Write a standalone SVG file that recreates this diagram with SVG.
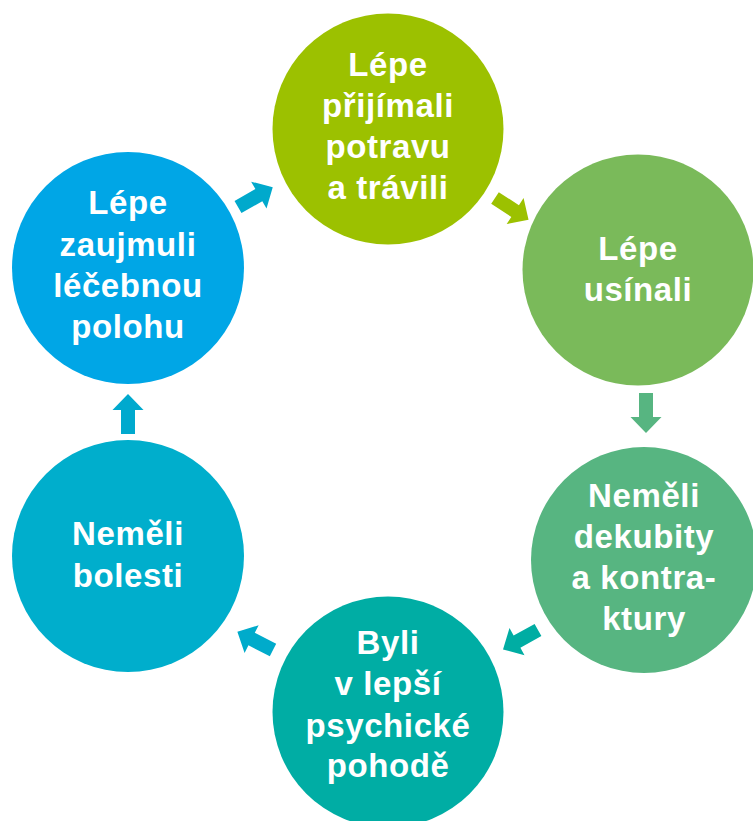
<svg xmlns="http://www.w3.org/2000/svg" width="753" height="821" viewBox="0 0 753 821">
<defs>
<style>
text{font-family:"Liberation Sans",Arial,sans-serif;font-weight:bold;font-size:33px;fill:#fff;text-anchor:middle;letter-spacing:0.6px}
</style>
<path id="arr" d="M0,-7 L24,-7 L24,-15.5 L40,0 L24,15.5 L24,7 L0,7 Z"/>
</defs>
<rect width="753" height="821" fill="#fff"/>
<g id="connectors">
<use href="#arr" fill="#00a9cc" transform="translate(238,207) rotate(-29.7)"/>
<use href="#arr" fill="#9cc100" transform="translate(495,198) rotate(33)"/>
<use href="#arr" fill="#57b581" transform="translate(646,393) rotate(90)"/>
<use href="#arr" fill="#00ada3" transform="translate(538,630) rotate(151)"/>
<use href="#arr" fill="#00abcb" transform="translate(273,650) rotate(207)"/>
<use href="#arr" fill="#00a9ce" transform="translate(128,434) rotate(-90)"/>
</g>
<g id="n1">
<circle cx="388" cy="129" r="115.5" fill="#9cc100"/>
<text x="388" y="76">Lépe</text>
<text x="388" y="117">přijímali</text>
<text x="388" y="158">potravu</text>
<text x="388" y="199">a trávili</text>
</g>
<g id="n2">
<circle cx="638" cy="270" r="115.5" fill="#7aba5a"/>
<text x="638" y="260">Lépe</text>
<text x="638" y="301">usínali</text>
</g>
<g id="n3">
<circle cx="644" cy="560" r="113" fill="#57b581"/>
<text x="644" y="507">Neměli</text>
<text x="644" y="548">dekubity</text>
<text x="644" y="589">a kontra-</text>
<text x="644" y="630">ktury</text>
</g>
<g id="n4">
<circle cx="388" cy="712" r="115.5" fill="#00ada4"/>
<text x="388" y="654">Byli</text>
<text x="388" y="695">v lepší</text>
<text x="388" y="737">psychické</text>
<text x="388" y="777">pohodě</text>
</g>
<g id="n5">
<circle cx="128" cy="556" r="116" fill="#00aecc"/>
<text x="128" y="545">Neměli</text>
<text x="128" y="587">bolesti</text>
</g>
<g id="n6">
<circle cx="128" cy="268" r="116" fill="#00a6e6"/>
<text x="128" y="214">Lépe</text>
<text x="128" y="256">zaujmuli</text>
<text x="128" y="297">léčebnou</text>
<text x="128" y="338">polohu</text>
</g>
</svg>
